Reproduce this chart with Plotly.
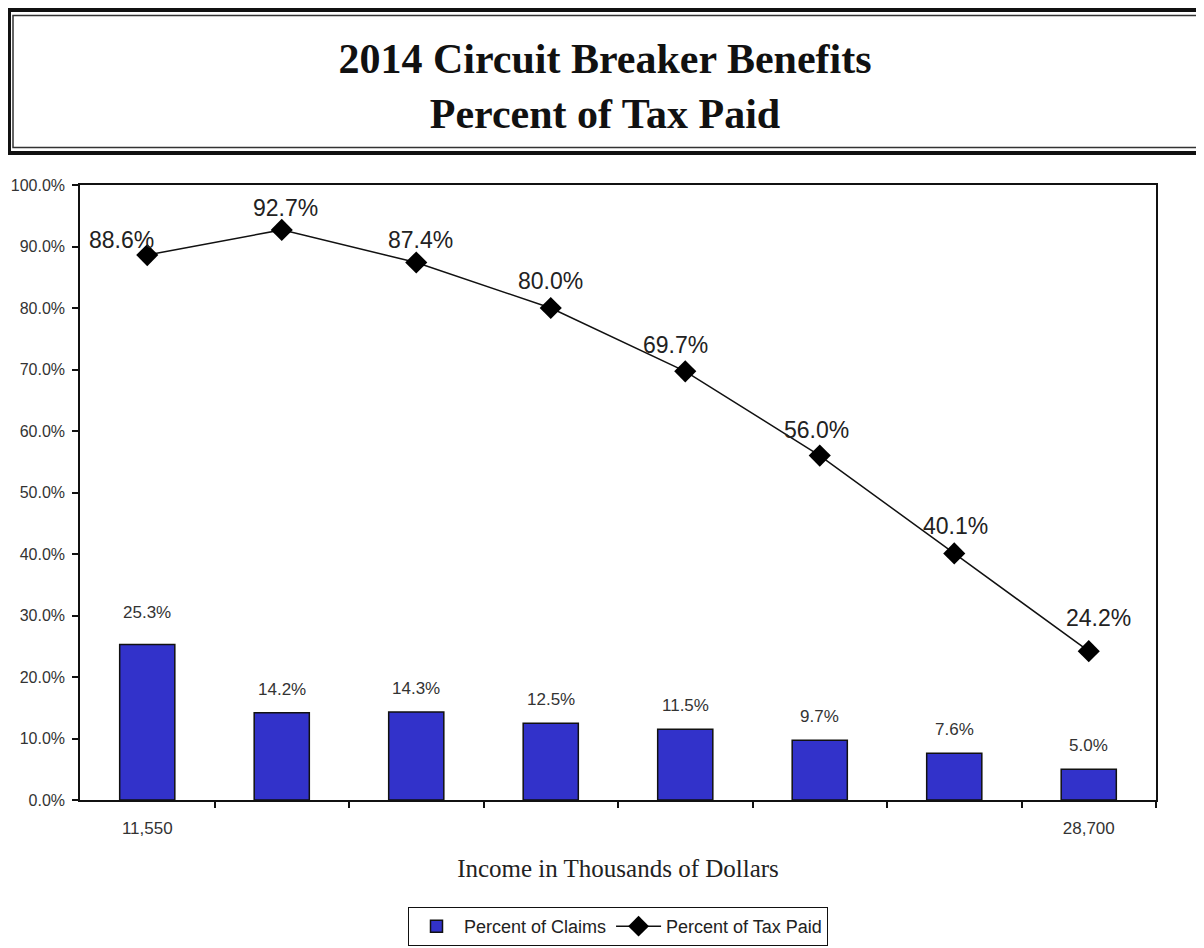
import plotly.graph_objects as go

categories = ["11,550", "b2", "b3", "b4", "b5", "b6", "b7", "28,700"]
tick_labels = ["11,550", "", "", "", "", "", "", "28,700"]
claims = [25.3, 14.2, 14.3, 12.5, 11.5, 9.7, 7.6, 5.0]
tax_paid = [88.6, 92.7, 87.4, 80.0, 69.7, 56.0, 40.1, 24.2]

# label offsets (style only, pixels)
line_label_dx = [-26, 4, 4, 0, -10, -3, 1, 10]
line_label_dy = [15, 22, 22, 27, 26, 26, 27, 33]
bar_label_dy = [20, 12, 12, 12, 12, 12, 12, 12]

OFF = 8  # default page body margin
W, H = 1204 - OFF, 948 - OFF
L, T = 80 - OFF, 185 - OFF
R = W - (1156 - OFF)
B = H - (800 - OFF)
pw, ph = W - L - R, H - T - B

def px(x):
    return (x - OFF - L) / pw

def py(y):
    return (H - B - (y - OFF)) / ph

xi = list(range(len(categories)))

fig = go.Figure()
fig.add_trace(go.Bar(
    x=xi, y=[v / 100 for v in claims], name="Percent of Claims",
    marker=dict(color="#3232CA", line=dict(color="#111111", width=1.5)),
    width=0.41,
))
fig.add_trace(go.Scatter(
    x=xi, y=[v / 100 for v in tax_paid], name="Percent of Tax Paid",
    mode="lines+markers",
    line=dict(color="#111111", width=1.5),
    marker=dict(symbol="diamond", size=17, color="#000000"),
))

annotations = []
for i, v in enumerate(claims):
    annotations.append(dict(
        x=i, y=v / 100, xref="x", yref="y", text=f"{v:.1f}%", showarrow=False,
        yanchor="bottom", yshift=bar_label_dy[i],
        font=dict(family="Liberation Sans, Arial", size=17, color="#333333"),
    ))
for i, v in enumerate(tax_paid):
    annotations.append(dict(
        x=i, y=v / 100, xref="x", yref="y", text=f"{v:.1f}%", showarrow=False,
        yanchor="middle", xshift=line_label_dx[i], yshift=line_label_dy[i],
        font=dict(family="Liberation Sans, Arial", size=23, color="#222222"),
    ))

shapes = [
    dict(type="rect", xref="paper", yref="paper",
         x0=px(9), x1=px(1210), y0=py(10), y1=py(153),
         line=dict(color="#111111", width=4)),
    dict(type="rect", xref="paper", yref="paper",
         x0=px(13), x1=px(1200), y0=py(15.5), y1=py(147.5),
         line=dict(color="#333333", width=1.5)),
]

fig.update_layout(
    width=W, height=H,
    margin=dict(l=L, r=R, t=T, b=B, autoexpand=False),
    paper_bgcolor="white", plot_bgcolor="white",
    title=dict(
        text="<b>2014 Circuit Breaker Benefits<br>Percent of Tax Paid</b>",
        xref="container", yref="container", x=(605 - OFF) / W, y=1 - (73 - OFF) / H,
        xanchor="center", yanchor="middle",
        font=dict(family="Liberation Serif, Times New Roman", size=42, color="#111111"),
    ),
    font=dict(family="Liberation Sans, Arial", color="#333333"),
    showlegend=True,
    legend=dict(
        orientation="h", x=0.5, xanchor="center", y=py(907), yanchor="top",
        bordercolor="#111111", borderwidth=1, bgcolor="white",
        font=dict(family="Liberation Sans, Arial", size=18, color="#222222"),
        traceorder="normal", itemwidth=45,
    ),
    annotations=annotations,
    shapes=shapes,
)

fig.update_xaxes(
    range=[-0.5, len(categories) - 0.5],
    tickvals=xi, ticktext=tick_labels, ticks="",
    ticklabelstandoff=12,
    tickfont=dict(size=17, color="#333333"),
    minor=dict(tickvals=[i + 0.5 for i in xi], ticks="outside", ticklen=6,
               tickcolor="#111111", tickwidth=1.5),
    showline=True, linecolor="#111111", linewidth=1.5, mirror=True,
    showgrid=False, zeroline=False,
    title=dict(text="Income in Thousands of Dollars", standoff=22,
               font=dict(family="Liberation Serif, Times New Roman", size=25, color="#222222")),
)
fig.update_yaxes(
    range=[0, 1.0], dtick=0.1, tickformat=".1%",
    ticks="outside", ticklen=6, tickcolor="#111111", tickwidth=1.5,
    ticklabelstandoff=4,
    tickfont=dict(size=16, color="#333333"),
    showline=True, linecolor="#111111", linewidth=1.5, mirror=True,
    showgrid=False, zeroline=False,
)

fig.write_html("out.html")
